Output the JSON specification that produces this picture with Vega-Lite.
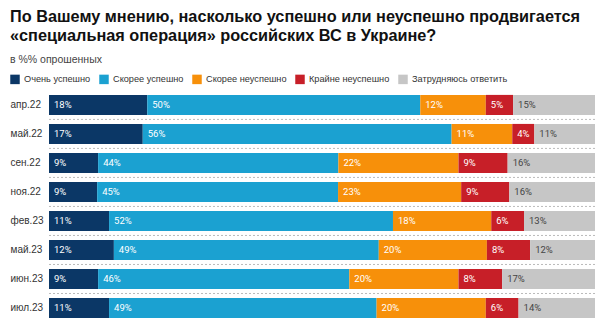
{
  "$schema": "https://vega.github.io/schema/vega-lite/v6.json",
  "width": 597,
  "height": 326,
  "autosize": {"type": "fit", "contains": "padding"},
  "padding": {"left": 10, "top": 8, "right": 1, "bottom": 5},
  "background": "white",
  "title": {
    "text": ["По Вашему мнению, насколько успешно или неуспешно продвигается", "«специальная операция» российских ВС в Украине?"],
    "subtitle": "в %% опрошенных",
    "anchor": "start",
    "frame": "bounds",
    "font": "Liberation Sans",
    "fontSize": 16.3,
    "fontWeight": "bold",
    "color": "#111111",
    "lineHeight": 19.5,
    "subtitleFont": "Liberation Sans",
    "subtitleFontSize": 10.5,
    "subtitleColor": "#444444",
    "subtitlePadding": 11,
    "offset": 26
  },
  "data": {
    "values": [
      {"month": "апр.22", "cat": "Очень успешно", "value": 18, "order": 1},
      {"month": "апр.22", "cat": "Скорее успешно", "value": 50, "order": 2},
      {"month": "апр.22", "cat": "Скорее неуспешно", "value": 12, "order": 3},
      {"month": "апр.22", "cat": "Крайне неуспешно", "value": 5, "order": 4},
      {"month": "апр.22", "cat": "Затрудняюсь ответить", "value": 15, "order": 5},
      {"month": "май.22", "cat": "Очень успешно", "value": 17, "order": 1},
      {"month": "май.22", "cat": "Скорее успешно", "value": 56, "order": 2},
      {"month": "май.22", "cat": "Скорее неуспешно", "value": 11, "order": 3},
      {"month": "май.22", "cat": "Крайне неуспешно", "value": 4, "order": 4},
      {"month": "май.22", "cat": "Затрудняюсь ответить", "value": 11, "order": 5},
      {"month": "сен.22", "cat": "Очень успешно", "value": 9, "order": 1},
      {"month": "сен.22", "cat": "Скорее успешно", "value": 44, "order": 2},
      {"month": "сен.22", "cat": "Скорее неуспешно", "value": 22, "order": 3},
      {"month": "сен.22", "cat": "Крайне неуспешно", "value": 9, "order": 4},
      {"month": "сен.22", "cat": "Затрудняюсь ответить", "value": 16, "order": 5},
      {"month": "ноя.22", "cat": "Очень успешно", "value": 9, "order": 1},
      {"month": "ноя.22", "cat": "Скорее успешно", "value": 45, "order": 2},
      {"month": "ноя.22", "cat": "Скорее неуспешно", "value": 23, "order": 3},
      {"month": "ноя.22", "cat": "Крайне неуспешно", "value": 9, "order": 4},
      {"month": "ноя.22", "cat": "Затрудняюсь ответить", "value": 16, "order": 5},
      {"month": "фев.23", "cat": "Очень успешно", "value": 11, "order": 1},
      {"month": "фев.23", "cat": "Скорее успешно", "value": 52, "order": 2},
      {"month": "фев.23", "cat": "Скорее неуспешно", "value": 18, "order": 3},
      {"month": "фев.23", "cat": "Крайне неуспешно", "value": 6, "order": 4},
      {"month": "фев.23", "cat": "Затрудняюсь ответить", "value": 13, "order": 5},
      {"month": "май.23", "cat": "Очень успешно", "value": 12, "order": 1},
      {"month": "май.23", "cat": "Скорее успешно", "value": 49, "order": 2},
      {"month": "май.23", "cat": "Скорее неуспешно", "value": 20, "order": 3},
      {"month": "май.23", "cat": "Крайне неуспешно", "value": 8, "order": 4},
      {"month": "май.23", "cat": "Затрудняюсь ответить", "value": 12, "order": 5},
      {"month": "июн.23", "cat": "Очень успешно", "value": 9, "order": 1},
      {"month": "июн.23", "cat": "Скорее успешно", "value": 46, "order": 2},
      {"month": "июн.23", "cat": "Скорее неуспешно", "value": 20, "order": 3},
      {"month": "июн.23", "cat": "Крайне неуспешно", "value": 8, "order": 4},
      {"month": "июн.23", "cat": "Затрудняюсь ответить", "value": 17, "order": 5},
      {"month": "июл.23", "cat": "Очень успешно", "value": 11, "order": 1},
      {"month": "июл.23", "cat": "Скорее успешно", "value": 49, "order": 2},
      {"month": "июл.23", "cat": "Скорее неуспешно", "value": 20, "order": 3},
      {"month": "июл.23", "cat": "Крайне неуспешно", "value": 6, "order": 4},
      {"month": "июл.23", "cat": "Затрудняюсь ответить", "value": 14, "order": 5}
    ]
  },
  "transform": [
    {"stack": "value", "groupby": ["month"], "sort": [{"field": "order"}], "offset": "normalize", "as": ["x0", "x1"]},
    {"calculate": "datum.value + '%'", "as": "label"}
  ],
  "encoding": {
    "y": {
      "field": "month",
      "type": "nominal",
      "sort": ["апр.22", "май.22", "сен.22", "ноя.22", "фев.23", "май.23", "июн.23", "июл.23"],
      "scale": {"paddingInner": 0.307, "paddingOuter": 0.1},
      "axis": {
        "title": null,
        "domain": false,
        "ticks": false,
        "grid": false,
        "labelAlign": "left",
        "labelPadding": 39,
        "labelFont": "Liberation Sans",
        "labelFontSize": 10,
        "labelColor": "#333333"
      }
    }
  },
  "layer": [
    {
      "mark": {"type": "bar"},
      "encoding": {
        "x": {"field": "x0", "type": "quantitative", "scale": {"domain": [0, 1], "nice": false}, "axis": null},
        "x2": {"field": "x1"},
        "color": {
          "field": "cat",
          "type": "nominal",
          "sort": ["Очень успешно", "Скорее успешно", "Скорее неуспешно", "Крайне неуспешно", "Затрудняюсь ответить"],
          "scale": {
            "domain": ["Очень успешно", "Скорее успешно", "Скорее неуспешно", "Крайне неуспешно", "Затрудняюсь ответить"],
            "range": ["#0b3766", "#1ba1d1", "#f7900a", "#c71f28", "#c6c6c6"]
          },
          "legend": {
            "title": null,
            "orient": "none",
            "direction": "horizontal",
            "legendX": -39,
            "legendY": -18,
            "gridAlign": "each",
            "symbolType": "square",
            "symbolSize": 90,
            "symbolStrokeWidth": 0,
            "symbolOpacity": 1,
            "labelFont": "Liberation Sans",
            "labelFontSize": 9.2,
            "labelColor": "#333333",
            "labelOffset": 4,
            "columnPadding": 8
          }
        }
      }
    },
    {
      "mark": {"type": "text", "align": "left", "baseline": "middle", "dx": 5, "font": "Roboto", "fontSize": 9.5},
      "encoding": {
        "x": {"field": "x0", "type": "quantitative"},
        "text": {"field": "label", "type": "nominal"},
        "color": {
          "condition": {"test": "datum.order == 5", "value": "#444444"},
          "value": "#ffffff"
        }
      }
    },
    {
      "transform": [{"filter": "datum.order == 1 && datum.month != 'июл.23'"}],
      "mark": {"type": "rule", "color": "#bbbbbb", "strokeWidth": 1, "strokeDash": [2, 2], "yOffset": 4.4},
      "encoding": {
        "y": {"field": "month", "type": "nominal", "bandPosition": 1, "sort": ["апр.22", "май.22", "сен.22", "ноя.22", "фев.23", "май.23", "июн.23", "июл.23"]}
      }
    }
  ],
  "config": {
    "view": {"stroke": null}
  }
}
